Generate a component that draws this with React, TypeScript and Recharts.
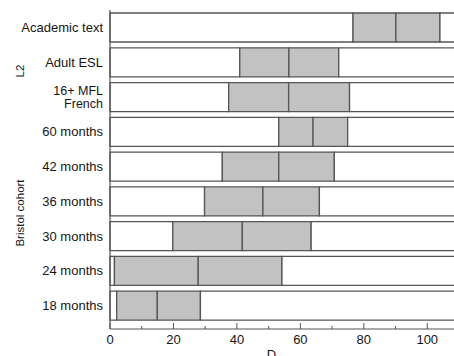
import { BarChart, Bar, XAxis, YAxis } from 'recharts'

// One row per group; the shaded box runs from the lower to the upper quartile with a line at the median
const categories = [
  'Academic text',
  'Adult ESL',
  '16+ MFL\nFrench',
  '60 months',
  '42 months',
  '36 months',
  '30 months',
  '24 months',
  '18 months',
]
const lowerQuartile = [76.6, 40.9, 37.4, 53.2, 35.4, 29.8, 19.8, 1.4, 2.1]
const median = [90.1, 56.4, 56.3, 64, 53.2, 48.2, 41.7, 27.8, 14.9]
const upperQuartile = [104, 72.1, 75.5, 74.9, 70.7, 66, 63.4, 54.2, 28.5]
const xMax = 110
const xTicks = [0, 10, 20, 30, 40, 50, 60, 70, 80, 90, 100]
const groupLabels = ['L2', 'Bristol cohort']

const FONT = '"Liberation Sans", Arial, Helvetica, sans-serif'
const LINE = '#555'
const BOX = '#c2c2c2'
const INK = '#151515'

const data = categories.map((name, i) => ({
  name,
  before: lowerQuartile[i],
  lowerHalf: median[i] - lowerQuartile[i],
  upperHalf: upperQuartile[i] - median[i],
  after: xMax - upperQuartile[i],
}))

function CategoryTick({ x, y, payload }: any) {
  const lines = String(payload.value).split('\n')
  const multi = lines.length > 1
  const step = 13
  const start = y - ((lines.length - 1) * step) / 2
  return (
    <text x={x - 7} y={start} textAnchor="end" fontSize={multi ? 12.5 : 13} fill={INK} fontFamily={FONT}>
      {lines.map((line, i) => (
        <tspan key={i} x={x - 7} y={start + i * step} dy="0.35em">
          {line}
        </tspan>
      ))}
    </text>
  )
}

function ValueTick({ x, y, payload }: any) {
  const major = payload.value % 20 === 0
  return (
    <g>
      <line x1={x} x2={x} y1={y - (major ? 6 : 3)} y2={y} stroke={LINE} strokeWidth={1} />
      {major && (
        <text x={x} y={y + 15} textAnchor="middle" fontSize={13} fill={INK} fontFamily={FONT}>
          {payload.value}
        </text>
      )}
    </g>
  )
}

export default function App() {
  return (
    <div style={{ position: 'fixed', left: 0, top: 0, width: 454, height: 356, overflow: 'hidden', background: '#fff' }}>
      <BarChart
        width={464}
        height={356}
        data={data}
        layout="vertical"
        margin={{ top: 10, right: 5, bottom: 0, left: 0 }}
        barSize={29}
      >
        <XAxis
          type="number"
          domain={[0, xMax]}
          ticks={xTicks}
          interval={0}
          height={27}
          tickSize={0}
          tickMargin={0}
          tickLine={false}
          axisLine={{ stroke: LINE, strokeWidth: 1.2 }}
          tick={<ValueTick />}
          label={{ value: 'D', position: 'insideBottom', offset: -3, dx: -13, fontSize: 13, fill: INK, fontFamily: FONT }}
        />
        <YAxis
          type="category"
          dataKey="name"
          width={110}
          padding={{ top: 0, bottom: 6 }}
          tickSize={0}
          tickMargin={0}
          tickLine={false}
          axisLine={{ stroke: LINE, strokeWidth: 1.2 }}
          tick={<CategoryTick />}
          interval={0}
        />
        <Bar dataKey="before" stackId="row" fill="#fff" stroke={LINE} strokeWidth={1.3} isAnimationActive={false} />
        <Bar dataKey="lowerHalf" stackId="row" fill={BOX} stroke={LINE} strokeWidth={1.3} isAnimationActive={false} />
        <Bar dataKey="upperHalf" stackId="row" fill={BOX} stroke={LINE} strokeWidth={1.3} isAnimationActive={false} />
        <Bar dataKey="after" stackId="row" fill="#fff" stroke={LINE} strokeWidth={1.3} isAnimationActive={false} />
      </BarChart>
      <svg width={40} height={356} style={{ position: 'absolute', left: 0, top: 0, pointerEvents: 'none' }}>
        <text x={20} y={71} transform="rotate(-90 20 71)" textAnchor="middle" dominantBaseline="central" fontSize={11.5} fill={INK} fontFamily={FONT}>
          {groupLabels[0]}
        </text>
        <text x={20} y={213} transform="rotate(-90 20 213)" textAnchor="middle" dominantBaseline="central" fontSize={11.5} fill={INK} fontFamily={FONT}>
          {groupLabels[1]}
        </text>
      </svg>
    </div>
  )
}
